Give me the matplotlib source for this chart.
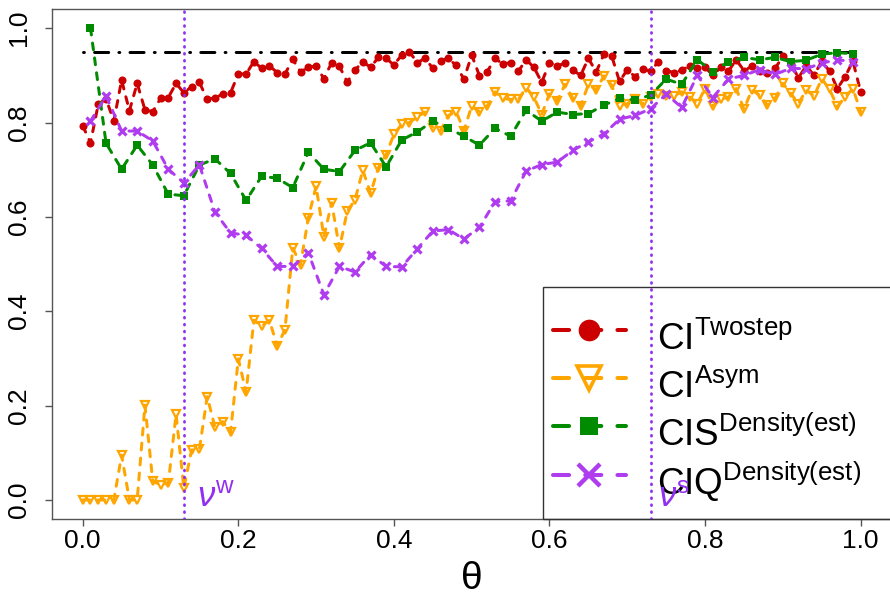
import numpy as np
import matplotlib
matplotlib.use("Agg")
import matplotlib.pyplot as plt
from matplotlib.lines import Line2D
from matplotlib.patches import Rectangle

plt.rcParams['font.family'] = ['Liberation Sans', 'DejaVu Sans']
plt.rcParams['mathtext.fontset'] = 'custom'
plt.rcParams['mathtext.rm'] = 'Liberation Sans'
plt.rcParams['mathtext.it'] = 'Liberation Sans:italic'
plt.rcParams['mathtext.bf'] = 'Liberation Sans:bold'

# ---------------- data ----------------
theta_fine = np.round(np.linspace(0.0, 1.0, 101), 2)
theta_coarse = np.round(np.linspace(0.01, 0.99, 50), 2)

ci_twostep = [
    0.793, 0.757, 0.839, 0.850, 0.803, 0.890, 0.825, 0.883, 0.827, 0.823,
    0.851, 0.853, 0.883, 0.863, 0.876, 0.885, 0.849, 0.853, 0.860, 0.863,
    0.903, 0.903, 0.929, 0.915, 0.920, 0.906, 0.903, 0.934, 0.907, 0.917,
    0.920, 0.893, 0.927, 0.919, 0.886, 0.911, 0.929, 0.917, 0.938, 0.936,
    0.922, 0.943, 0.950, 0.927, 0.936, 0.915, 0.931, 0.936, 0.921, 0.892,
    0.943, 0.899, 0.908, 0.936, 0.924, 0.927, 0.909, 0.933, 0.917, 0.885,
    0.927, 0.920, 0.926, 0.911, 0.900, 0.936, 0.907, 0.945, 0.941, 0.887,
    0.912, 0.897, 0.913, 0.909, 0.929, 0.910, 0.906, 0.911, 0.920, 0.915,
    0.917, 0.900, 0.917, 0.909, 0.933, 0.910, 0.919, 0.909, 0.906, 0.915,
    0.940, 0.925, 0.895, 0.920, 0.900, 0.930, 0.909, 0.872, 0.897, 0.930,
    0.865]

ci_asym = [
    0.000, 0.000, 0.000, 0.000, 0.000, 0.095, 0.000, 0.000, 0.201, 0.040,
    0.032, 0.035, 0.182, 0.025, 0.106, 0.108, 0.219, 0.154, 0.166, 0.143,
    0.299, 0.228, 0.381, 0.368, 0.381, 0.326, 0.361, 0.534, 0.499, 0.598,
    0.665, 0.558, 0.630, 0.533, 0.612, 0.636, 0.699, 0.650, 0.704, 0.732,
    0.775, 0.796, 0.800, 0.812, 0.822, 0.789, 0.783, 0.815, 0.823, 0.783,
    0.835, 0.823, 0.835, 0.865, 0.851, 0.849, 0.849, 0.874, 0.854, 0.817,
    0.861, 0.846, 0.881, 0.851, 0.835, 0.881, 0.869, 0.899, 0.879, 0.835,
    0.840, 0.850, 0.840, 0.855, 0.860, 0.856, 0.856, 0.865, 0.855, 0.840,
    0.872, 0.835, 0.849, 0.854, 0.872, 0.828, 0.869, 0.858, 0.837, 0.851,
    0.883, 0.862, 0.840, 0.869, 0.856, 0.893, 0.870, 0.834, 0.854, 0.872,
    0.823]

cis_density = [
    1.000, 0.756, 0.701, 0.752, 0.710, 0.648, 0.645, 0.710, 0.723, 0.692,
    0.635, 0.686, 0.682, 0.662, 0.737, 0.701, 0.696, 0.741, 0.757, 0.706,
    0.763, 0.780, 0.803, 0.788, 0.771, 0.752, 0.788, 0.771, 0.826, 0.803,
    0.822, 0.817, 0.819, 0.837, 0.851, 0.848, 0.858, 0.892, 0.881, 0.933,
    0.908, 0.929, 0.938, 0.933, 0.938, 0.929, 0.932, 0.945, 0.948, 0.946]

ciq_density = [
    0.803, 0.856, 0.782, 0.782, 0.761, 0.701, 0.672, 0.710, 0.610, 0.566,
    0.561, 0.533, 0.495, 0.495, 0.524, 0.435, 0.495, 0.483, 0.520, 0.495,
    0.494, 0.532, 0.570, 0.573, 0.553, 0.578, 0.632, 0.634, 0.697, 0.711,
    0.716, 0.741, 0.759, 0.776, 0.807, 0.815, 0.829, 0.860, 0.832, 0.900,
    0.853, 0.892, 0.900, 0.912, 0.902, 0.915, 0.914, 0.926, 0.933, 0.929]

nominal_level = 0.95
nu_w = 0.13
nu_s = 0.73
ticks = [0.0, 0.2, 0.4, 0.6, 0.8, 1.0]
tick_labels = ["0.0", "0.2", "0.4", "0.6", "0.8", "1.0"]
legend_labels = [r'$\mathrm{CI}^{\mathrm{Twostep}}$',
                 r'$\mathrm{CI}^{\mathrm{Asym}}$',
                 r'$\mathrm{CIS}^{\mathrm{Density(est)}}$',
                 r'$\mathrm{CIQ}^{\mathrm{Density(est)}}$']

# ---------------- style ----------------
RED = '#CC0000'
ORANGE = '#FFA500'
GREEN = '#008B00'
PURPLE = '#B03CF0'
VLINE = '#9030F0'

W, H = 890, 602
AX_LEFT, AX_BOTTOM, AX_W, AX_H = 51.6, 518.8, 840.2, 509.5  # pixels
fig = plt.figure(figsize=(W / 100, H / 100), dpi=100)
ax = fig.add_axes([AX_LEFT / W, (H - AX_BOTTOM) / H, AX_W / W, AX_H / H])
ax.set_xlim(-0.04, 1.04)
ax.set_ylim(-0.04, 1.04)

lw = 2.16
dash = (0, (2.3, 2.7))

ax.plot([0, 1], [nominal_level, nominal_level], color='black', lw=2.16,
        ls=(0, (0.3, 3.4, 4.7, 3.4)), dash_capstyle='round', zorder=1)

ax.plot(theta_fine, ci_twostep, color=RED, lw=lw, ls=dash, dash_capstyle='round',
        marker='o', ms=5.8, mew=0, zorder=2)
ax.plot(theta_fine, ci_asym, color=ORANGE, lw=lw, ls=dash, dash_capstyle='round',
        marker='v', ms=6.2, mfc='none', mec=ORANGE, mew=1.6, zorder=3)
ax.plot(theta_coarse, cis_density, color=GREEN, lw=lw, ls=dash, dash_capstyle='round',
        marker='s', ms=5.6, mew=0, zorder=4)
ax.plot(theta_coarse, ciq_density, color=PURPLE, lw=lw, ls=dash, dash_capstyle='round',
        marker='x', ms=6.2, mew=2.3, zorder=5)

for v in (nu_w, nu_s):
    ax.axvline(v, color=VLINE, lw=2.0, ls=(0, (0.3, 2.2)), dash_capstyle='round', zorder=7)

ax.text(0.147, 0.005, r'$\nu^{\mathrm{w}}$', color=VLINE, fontsize=25, ha='left', va='center', zorder=8)
ax.text(0.740, 0.005, r'$\nu^{\mathrm{s}}$', color=VLINE, fontsize=25, ha='left', va='center', zorder=8)

# legend frame (R-style box anchored at the bottom-right of the plot region)
fx0 = (543 - AX_LEFT) / AX_W
fy1 = (AX_BOTTOM - 287) / AX_H
ax.add_patch(Rectangle((fx0, 0), 1 - fx0, fy1, transform=ax.transAxes, fill=False,
                       edgecolor='#333333', lw=1.0, zorder=6, clip_on=False))

handles = [
    Line2D([], [], color=RED, lw=2.9, ls=(0, (4, 4)), dash_capstyle='round', marker='o', ms=15.6, mew=0),
    Line2D([], [], color=ORANGE, lw=2.9, ls=(0, (4, 4)), dash_capstyle='round', marker='v', ms=17, mfc='none', mec=ORANGE, mew=2.6),
    Line2D([], [], color=GREEN, lw=2.9, ls=(0, (4, 4)), dash_capstyle='round', marker='s', ms=13, mew=0),
    Line2D([], [], color=PURPLE, lw=2.9, ls=(0, (4, 4)), dash_capstyle='round', marker='x', ms=16, mew=3.2),
]
ly0 = (AX_BOTTOM - 521) / AX_H
leg = ax.legend(handles, legend_labels, loc='lower left', bbox_to_anchor=(fx0, ly0),
                borderaxespad=0, fontsize=26.6, handlelength=1.97, handleheight=1.97,
                handletextpad=0.85, labelspacing=-0.22, borderpad=0.27, frameon=False,
                numpoints=1)
leg.set_zorder(6)

for s in ax.spines.values():
    s.set_color('#555555')
    s.set_linewidth(1.0)

ax.set_xticks(ticks)
ax.set_xticklabels(tick_labels)
ax.set_yticks(ticks)
ax.set_yticklabels(tick_labels, rotation=90, va='center')
ax.tick_params(axis='both', direction='out', length=5, width=1, color='#555555',
               labelsize=19, pad=2)
ax.tick_params(axis='y', pad=10)
ax.set_xlabel('θ', fontsize=28, labelpad=6)

fig.savefig('out.png', dpi=100)
